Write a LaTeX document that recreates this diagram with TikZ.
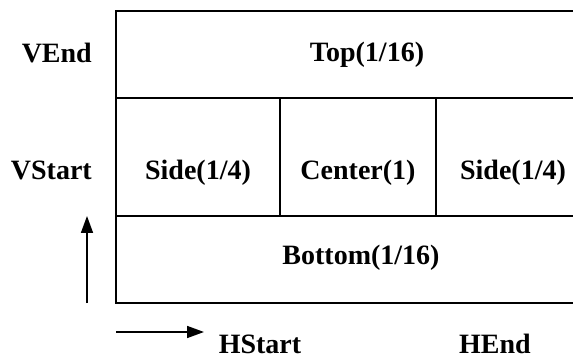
\documentclass[tikz,border=0pt]{standalone}
\usepackage{fontspec}
\setmainfont{Liberation Serif}
\usetikzlibrary{arrows.meta}

\begin{document}
\begin{tikzpicture}[x=1pt, y=-1pt,
	lbl/.style={font=\bfseries\fontsize{28}{32}\selectfont, inner sep=0pt, anchor=base},
	rule/.style={line width=1.6pt},
	dir/.style={line width=1.6pt, arrows={-Triangle[length=17pt, width=12pt]}}]

	\useasboundingbox (0,0) rectangle (573,358);

	% frame of the block
	\draw [rule] (573,11) -- (116,11) -- (116,303) -- (573,303);
	\draw [rule] (116,98) -- (573,98);
	\draw [rule] (116,216) -- (573,216);
	\draw [rule] (280,98) -- (280,216);
	\draw [rule] (436,98) -- (436,216);

	% parts
	\node [lbl] (top) at (367,62) {Top(1/16)};
	\node [lbl] (sidel) at (198,180) {Side(1/4)};
	\node [lbl] (center) at (358,180) {Center(1)};
	\node [lbl] (sider) at (513,180) {Side(1/4)};
	\node [lbl] (bottom) at (361,265) {Bottom(1/16)};

	% scan labels
	\node [lbl, anchor=base east] (vend) at (92,63) {VEnd};
	\node [lbl, anchor=base east] (vstart) at (92,180) {VStart};
	\node [lbl] (hstart) at (260,353) {HStart};
	\node [lbl] (hend) at (495,353) {HEnd};

	\coordinate (vfrom) at (87,303);
	\coordinate (vto) at (87,216);
	\coordinate (hfrom) at (116,332);
	\coordinate (hto) at (204,332);
	\draw [dir] (vfrom) -- (vto);
	\draw [dir] (hfrom) -- (hto);

\end{tikzpicture}
\end{document}
